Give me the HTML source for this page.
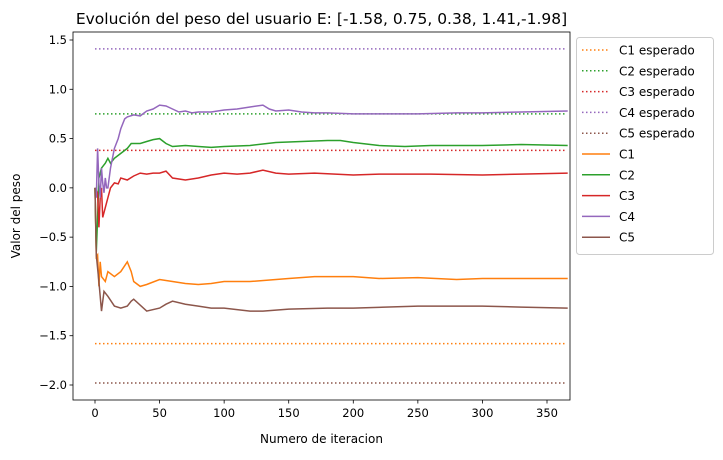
<!DOCTYPE html>
<html><head><meta charset="utf-8"><style>
body{margin:0;background:#fff;font-family:"Liberation Sans","DejaVu Sans",sans-serif}
svg text{font-family:"DejaVu Sans","Liberation Sans",sans-serif}
</style></head><body>
<svg id="chart" width="723" height="455" xmlns="http://www.w3.org/2000/svg"></svg>
<script>
const xTicks=[0,50,100,150,200,250,300,350];
const yTicks=[-2.0,-1.5,-1.0,-0.5,0.0,0.5,1.0,1.5];
const seriesNames=["C1","C2","C3","C4","C5"];
const colors=["#ff7f0e","#2ca02c","#d62728","#9467bd","#8c564b"];
const expected=[-1.58,0.75,0.38,1.41,-1.98];
const c1It=[0,1,2,3,4,5,8,10,15,20,25,28,30,35,40,50,60,70,80,90,100,120,150,170,200,220,250,280,300,330,366];
const c1Val=[0,-0.7,-0.68,-1.0,-0.75,-0.9,-0.95,-0.85,-0.9,-0.85,-0.75,-0.85,-0.95,-1.0,-0.98,-0.93,-0.95,-0.97,-0.98,-0.97,-0.95,-0.95,-0.92,-0.9,-0.9,-0.92,-0.91,-0.93,-0.92,-0.92,-0.92];
const c2It=[0,1,2,3,5,8,10,12,15,20,25,28,35,40,45,50,55,60,70,80,90,100,120,140,160,180,190,200,220,240,260,300,330,366];
const c2Val=[0,-0.65,-0.3,0.1,0.2,0.25,0.3,0.25,0.3,0.35,0.4,0.45,0.45,0.47,0.49,0.5,0.45,0.42,0.43,0.42,0.41,0.42,0.43,0.46,0.47,0.48,0.48,0.46,0.43,0.42,0.43,0.43,0.44,0.43];
const c3It=[0,2,3,4,5,6,8,10,12,15,18,20,25,30,35,40,45,50,55,60,70,80,90,100,110,120,130,140,150,170,200,220,260,300,330,366];
const c3Val=[0,-0.05,-0.4,-0.1,0,-0.3,-0.2,-0.1,0,0.05,0.04,0.1,0.08,0.12,0.15,0.14,0.15,0.15,0.17,0.1,0.08,0.1,0.13,0.15,0.14,0.15,0.18,0.15,0.14,0.15,0.13,0.14,0.14,0.13,0.14,0.15];
const c4It=[0,1,2,3,4,5,6,7,8,9,10,12,15,18,20,23,25,30,35,40,45,50,55,60,65,70,75,80,90,100,110,120,130,135,140,150,160,170,180,200,220,250,280,300,330,366];
const c4Val=[0,-0.1,0.4,0.05,-0.1,0.2,0.05,-0.05,0.1,0,0,0.2,0.4,0.5,0.6,0.7,0.72,0.74,0.73,0.78,0.8,0.84,0.83,0.8,0.77,0.78,0.76,0.77,0.77,0.79,0.8,0.82,0.84,0.8,0.78,0.79,0.77,0.76,0.76,0.75,0.75,0.75,0.76,0.76,0.77,0.78];
const c5It=[0,1,3,5,7,10,15,20,25,28,30,40,50,55,60,70,80,90,100,120,130,150,180,200,250,300,330,366];
const c5Val=[0,-0.68,-0.95,-1.25,-1.05,-1.1,-1.2,-1.22,-1.2,-1.15,-1.13,-1.25,-1.22,-1.18,-1.15,-1.18,-1.2,-1.22,-1.22,-1.25,-1.25,-1.23,-1.22,-1.22,-1.2,-1.2,-1.21,-1.22];
const its=[c1It,c2It,c3It,c4It,c5It], vals=[c1Val,c2Val,c3Val,c4Val,c5Val];

const svg=document.getElementById('chart');
const NS='http://www.w3.org/2000/svg';
const L=73,R=570,T=32,B=400;
const xs=v=>95+v*(547-95)/350;
const ys=v=>40+(1.5-v)*(385-40)/3.5;
function mk(tag,attrs,parent){const e=document.createElementNS(NS,tag);for(const k in attrs)e.setAttribute(k,attrs[k]);(parent||svg).appendChild(e);return e;}
const title=mk('text',{x:(L+R)/2,y:24,'text-anchor':'middle','font-size':15.5});
title.textContent='Evolución del peso del usuario E: [-1.58, 0.75, 0.38, 1.41,-1.98]';


const clip=mk('clipPath',{id:'pc'});mk('rect',{x:L,y:T,width:R-L,height:B-T},clip);
expected.forEach((e,i)=>{
 const l=mk('line',{x1:xs(0),x2:xs(365),y1:ys(e),y2:ys(e),stroke:colors[i],'stroke-width':1.5,'stroke-dasharray':'1.5,2.5'});
 
 
});
vals.forEach((vs,i)=>{
 const d=vs.map((v,j)=>(j?'L':'M')+xs(its[i][j]).toFixed(1)+','+ys(v).toFixed(1)).join('');
 const p=mk('path',{d:d,fill:'none',stroke:colors[i],'stroke-width':1.5,'clip-path':'url(#pc)'});
 
 
});
const frame=mk('rect',{x:L,y:T,width:R-L,height:B-T,fill:'none',stroke:'#000','stroke-width':0.8});


xTicks.forEach(t=>{
 mk('line',{x1:xs(t),x2:xs(t),y1:B,y2:B+3.5,stroke:'#000','stroke-width':0.8});
 const tx=mk('text',{x:xs(t),y:B+17,'text-anchor':'middle','font-size':11.5});tx.textContent=t;
 
 
});
yTicks.forEach(t=>{
 mk('line',{x1:L,x2:L-3.5,y1:ys(t),y2:ys(t),stroke:'#000','stroke-width':0.8});
 const tx=mk('text',{x:L-6,y:ys(t)+4,'text-anchor':'end','font-size':11.5});tx.textContent=t.toFixed(1).replace('-','\u2212');
 
 
});
const xl=mk('text',{x:(L+R)/2,y:443,'text-anchor':'middle','font-size':12});xl.textContent='Numero de iteracion';


const yl=mk('text',{x:20,y:216,'text-anchor':'middle','font-size':12,transform:'rotate(-90 20 216)'});yl.textContent='Valor del peso';


const lg=mk('g',{});


mk('rect',{x:576.5,y:37.5,width:137,height:217,rx:3,fill:'#fff',stroke:'#ccc'},lg);
const labels=seriesNames.map(n=>n+' esperado').concat(seriesNames);
labels.forEach((lab,k)=>{
 const y=50+k*20.8, c=colors[k%5], dotted=k<5;
 const ln=mk('line',{x1:582,x2:610,y1:y,y2:y,stroke:c,'stroke-width':1.5},lg);
 if(dotted)ln.setAttribute('stroke-dasharray','1.5,2.5');
 const tx=mk('text',{x:619,y:y+4.5,'font-size':12},lg);tx.textContent=lab;
 
 
});
</script>
</body></html>
